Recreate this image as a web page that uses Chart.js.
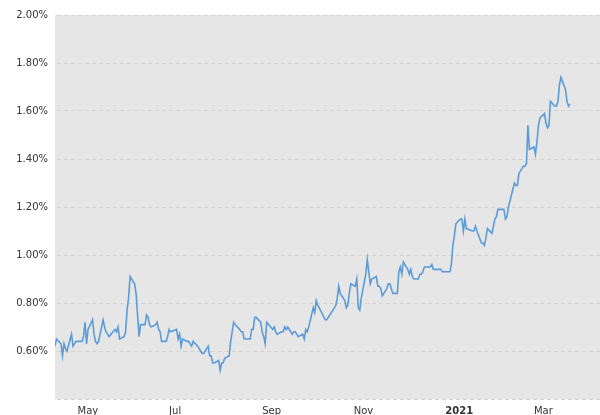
<!DOCTYPE html>
<html>
<head>
<meta charset="utf-8">
<script src="https://cdn.jsdelivr.net/npm/chart.js@4/dist/chart.umd.min.js"></script>
<style>
  body { margin: 0; background: #fff; }
  canvas { display: block; }
</style>
</head>
<body>
<canvas id="chart" width="600" height="415"></canvas>
<script>
// 10 year yield, daily closes, mid Apr 2020 -> late Mar 2021
const dates = [
  '2020-04-16','2020-04-17','2020-04-20','2020-04-21','2020-04-22','2020-04-23','2020-04-24','2020-04-27','2020-04-28','2020-04-29','2020-04-30',
  '2020-05-01','2020-05-04','2020-05-05','2020-05-06','2020-05-07','2020-05-08','2020-05-11','2020-05-12','2020-05-13','2020-05-14','2020-05-15',
  '2020-05-18','2020-05-19','2020-05-20','2020-05-21','2020-05-22','2020-05-26','2020-05-27','2020-05-28','2020-05-29',
  '2020-06-01','2020-06-02','2020-06-03','2020-06-04','2020-06-05','2020-06-08','2020-06-09','2020-06-10','2020-06-11','2020-06-12',
  '2020-06-15','2020-06-16','2020-06-17','2020-06-18','2020-06-19','2020-06-22','2020-06-23','2020-06-24','2020-06-25','2020-06-26','2020-06-29','2020-06-30',
  '2020-07-01','2020-07-02','2020-07-06','2020-07-07','2020-07-08','2020-07-09','2020-07-10','2020-07-13','2020-07-14','2020-07-15','2020-07-16','2020-07-17',
  '2020-07-20','2020-07-21','2020-07-22','2020-07-23','2020-07-24','2020-07-27','2020-07-28','2020-07-29','2020-07-30','2020-07-31',
  '2020-08-03','2020-08-04','2020-08-05','2020-08-06','2020-08-07','2020-08-10','2020-08-11','2020-08-12','2020-08-13','2020-08-14',
  '2020-08-17','2020-08-18','2020-08-19','2020-08-20','2020-08-21','2020-08-24','2020-08-25','2020-08-26','2020-08-27','2020-08-28','2020-08-31',
  '2020-09-01','2020-09-02','2020-09-03','2020-09-04','2020-09-08','2020-09-09','2020-09-10','2020-09-11','2020-09-14','2020-09-15','2020-09-16','2020-09-17','2020-09-18',
  '2020-09-21','2020-09-22','2020-09-23','2020-09-24','2020-09-25','2020-09-28','2020-09-29','2020-09-30',
  '2020-10-01','2020-10-02','2020-10-05','2020-10-06','2020-10-07','2020-10-08','2020-10-09','2020-10-13','2020-10-14','2020-10-15','2020-10-16',
  '2020-10-19','2020-10-20','2020-10-21','2020-10-22','2020-10-23','2020-10-26','2020-10-27','2020-10-28','2020-10-29','2020-10-30',
  '2020-11-02','2020-11-03','2020-11-04','2020-11-05','2020-11-06','2020-11-09','2020-11-10','2020-11-12','2020-11-13','2020-11-16','2020-11-17','2020-11-18',
  '2020-11-19','2020-11-20','2020-11-23','2020-11-24','2020-11-25','2020-11-27','2020-11-30',
  '2020-12-01','2020-12-02','2020-12-03','2020-12-04','2020-12-07','2020-12-08','2020-12-09','2020-12-10','2020-12-11','2020-12-14','2020-12-15','2020-12-16',
  '2020-12-17','2020-12-18','2020-12-21','2020-12-22','2020-12-23','2020-12-24','2020-12-28','2020-12-29','2020-12-30','2020-12-31',
  '2021-01-04','2021-01-05','2021-01-06','2021-01-07','2021-01-08','2021-01-11','2021-01-12','2021-01-13','2021-01-14','2021-01-15',
  '2021-01-19','2021-01-20','2021-01-21','2021-01-22','2021-01-25','2021-01-26','2021-01-27','2021-01-28','2021-01-29',
  '2021-02-01','2021-02-02','2021-02-03','2021-02-04','2021-02-05','2021-02-08','2021-02-09','2021-02-10','2021-02-11','2021-02-12',
  '2021-02-16','2021-02-17','2021-02-18','2021-02-19','2021-02-22','2021-02-23','2021-02-24','2021-02-25','2021-02-26',
  '2021-03-01','2021-03-02','2021-03-03','2021-03-04','2021-03-05','2021-03-08','2021-03-09','2021-03-10','2021-03-11','2021-03-12',
  '2021-03-15','2021-03-16','2021-03-17','2021-03-18','2021-03-19','2021-03-22','2021-03-23','2021-03-24','2021-03-25'
]

const yields = [
  0.62,0.65,0.63,0.58,0.63,0.61,0.60,0.67,0.62,0.63,0.64,
  0.64,0.64,0.66,0.72,0.63,0.69,0.73,0.67,0.64,0.63,0.64,
  0.73,0.70,0.68,0.67,0.66,0.69,0.68,0.70,0.65,
  0.66,0.68,0.77,0.82,0.91,0.88,0.84,0.75,0.66,0.71,
  0.71,0.75,0.74,0.71,0.70,0.71,0.72,0.69,0.68,0.64,0.64,0.66,
  0.69,0.68,0.69,0.65,0.67,0.62,0.65,0.64,0.64,0.63,0.62,0.64,
  0.62,0.61,0.60,0.59,0.59,0.62,0.58,0.58,0.55,0.55,
  0.56,0.52,0.55,0.55,0.57,0.58,0.64,0.68,0.72,0.71,
  0.69,0.68,0.68,0.65,0.65,0.65,0.69,0.69,0.74,0.74,0.72,
  0.68,0.66,0.63,0.72,0.69,0.70,0.68,0.67,0.68,0.68,0.70,0.69,0.70,
  0.67,0.68,0.68,0.67,0.66,0.67,0.65,0.69,
  0.68,0.70,0.78,0.76,0.81,0.79,0.78,0.73,0.73,0.74,0.75,
  0.78,0.79,0.82,0.87,0.84,0.81,0.78,0.79,0.84,0.88,
  0.87,0.90,0.78,0.77,0.82,0.92,0.98,0.88,0.90,0.91,0.87,0.87,
  0.86,0.83,0.86,0.88,0.88,0.84,0.84,
  0.93,0.95,0.92,0.97,0.94,0.92,0.94,0.91,0.90,0.90,0.92,0.92,
  0.93,0.95,0.95,0.95,0.96,0.94,0.94,0.94,0.93,0.93,
  0.93,0.96,1.04,1.08,1.13,1.15,1.15,1.10,1.15,1.11,
  1.10,1.10,1.12,1.10,1.05,1.05,1.04,1.07,1.11,
  1.09,1.12,1.15,1.16,1.19,1.19,1.19,1.15,1.16,1.20,
  1.30,1.29,1.29,1.34,1.37,1.37,1.38,1.54,1.44,
  1.45,1.42,1.47,1.54,1.57,1.59,1.55,1.53,1.54,1.64,
  1.62,1.62,1.64,1.71,1.74,1.69,1.64,1.62,1.63
]

const tickDates = ['2020-05-01','2020-07-01','2020-09-01','2020-11-01','2021-01-01','2021-03-01']
const tickLabels = ['May','Jul','Sep','Nov','2021','Mar']
const axisStart = '2020-04-16'
const axisEnd = '2021-04-14'

// days counted from 1 Apr 2020, so the x axis can stay linear
function dayNum(s) {
    const p = s.split('-').map(Number)
    return (Date.UTC(p[0], p[1] - 1, p[2]) - Date.UTC(2020, 3, 1)) / 86400000
}

const points = dates.map((d, i) => ({ x: dayNum(d), y: yields[i] }))
const tickDays = tickDates.map(dayNum)

const plotBg = {
    id: 'plotBg',
    beforeDraw(chart) {
        const { ctx, chartArea: a } = chart
        ctx.save()
        ctx.fillStyle = '#e6e6e6'
        ctx.fillRect(a.left, a.top, a.right - a.left, a.bottom - a.top)
        ctx.restore()
    }
}

const font = { family: 'DejaVu Sans', size: 10 }

new Chart(document.getElementById('chart'), {
    type: 'line',
    data: {
        datasets: [{
            data: points,
            borderColor: '#5b9bd9',
            borderWidth: 1.6,
            pointRadius: 0,
            tension: 0,
            fill: false
        }]
    },
    options: {
        responsive: false,
        animation: false,
        layout: { padding: { top: 15, right: 0, left: 0, bottom: 0 } },
        plugins: {
            legend: { display: false },
            tooltip: { enabled: false }
        },
        scales: {
            x: {
                type: 'linear',
                min: dayNum(axisStart),
                max: dayNum(axisEnd),
                grid: { display: false, drawTicks: false },
                border: { display: false },
                afterBuildTicks: axis => { axis.ticks = tickDays.map(v => ({ value: v })) },
                afterFit: axis => { axis.height = 16 },
                ticks: {
                    align: 'start',
                    padding: 6,
                    maxRotation: 0,
                    autoSkip: false,
                    color: '#333',
                    font: c => ({ ...font, weight: tickLabels[c.index] === '2021' ? 'bold' : 'normal' }),
                    callback: (value, i) => tickLabels[i]
                }
            },
            y: {
                min: 0.4,
                max: 2.0,
                grid: { color: '#d3d3d3', drawTicks: false, lineWidth: 1 },
                border: { display: false, dash: [4, 3], dashOffset: -2 },
                afterFit: axis => { axis.width = 55 },
                ticks: {
                    stepSize: 0.2,
                    padding: 7,
                    color: '#333',
                    font: font,
                    callback: v => v < 0.5 ? '' : v.toFixed(2) + '%'
                }
            }
        }
    },
    plugins: [plotBg]
})
</script>
</body>
</html>
